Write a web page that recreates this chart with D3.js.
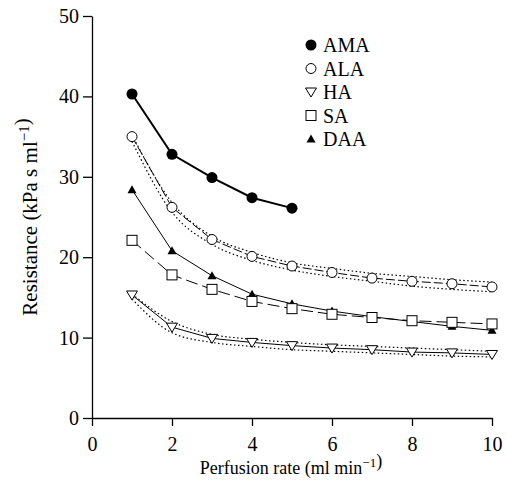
<!DOCTYPE html>
<html>
<head>
<meta charset="utf-8">
<script src="https://cdn.jsdelivr.net/npm/d3@7"></script>
<style>
  body { margin: 0; background: #fff; }
  text { font-family: "Liberation Serif", "DejaVu Serif", serif; fill: #000; }
</style>
</head>
<body>
<svg width="507" height="483"></svg>
<script>
// perfusion rate (ml/min)
var rates = [1, 2, 3, 4, 5, 6, 7, 8, 9, 10];
var ratesAMA = [1, 2, 3, 4, 5];

// resistance values
var ama = [40.3, 32.8, 29.9, 27.4, 26.1];
var ala = [35.0, 26.2, 22.2, 20.1, 18.9, 18.1, 17.4, 17.0, 16.7, 16.3];
var ha  = [15.3, 11.3, 9.9, 9.4, 9.0, 8.7, 8.5, 8.2, 8.1, 7.9];
var sa  = [22.1, 17.8, 16.0, 14.5, 13.6, 12.9, 12.5, 12.1, 11.9, 11.7];
var daa = [28.4, 20.8, 17.7, 15.4, 14.2, 13.3, 12.6, 12.0, 11.4, 10.9];

// dotted bands around ALA and HA
var alaUpper = [35.2, 26.8, 22.6, 20.6, 19.3, 18.6, 18.0, 17.6, 17.2, 16.9];
var alaLower = [34.4, 25.6, 21.6, 19.6, 18.4, 17.6, 17.0, 16.4, 16.0, 15.7];
var haUpper  = [15.4, 12.0, 10.4, 9.8, 9.4, 9.1, 8.9, 8.7, 8.5, 8.3];
var haLower  = [14.8, 10.6, 9.4, 8.9, 8.5, 8.3, 8.1, 7.9, 7.7, 7.6];

var xTicks = [0, 2, 4, 6, 8, 10];
var yTicks = [0, 10, 20, 30, 40, 50];
var legendNames = ["AMA", "ALA", "HA", "SA", "DAA"];

var svg = d3.select("svg");
var x = d3.scaleLinear().domain([0, 10]).range([92, 492]);
var y = d3.scaleLinear().domain([0, 50]).range([418, 16]);

var xAxis = svg.append("g")
    .attr("transform", "translate(0,418)")
    .call(d3.axisBottom(x).tickValues(xTicks).tickSize(8).tickPadding(4).tickSizeOuter(0));
var yAxis = svg.append("g")
    .attr("transform", "translate(92,0)")
    .call(d3.axisLeft(y).tickValues(yTicks).tickSize(9).tickPadding(4).tickSizeOuter(0));
[xAxis, yAxis].forEach(function(a) {
  a.selectAll("path, line").attr("stroke", "#000").attr("stroke-width", 1.3);
  a.selectAll("text").attr("font-family", "Liberation Serif").attr("font-size", 20);
});
xAxis.selectAll("text").attr("dy", "1.05em");

svg.append("text")
    .attr("x", 291).attr("y", 474)
    .attr("text-anchor", "middle").attr("font-size", 18)
    .html('Perfusion rate (ml min<tspan dy="-7" font-size="13">\u22121</tspan>)');
svg.append("text")
    .attr("transform", "translate(37,217) rotate(-90)")
    .attr("text-anchor", "middle").attr("font-size", 21)
    .html('Resistance (kPa s ml<tspan dy="-8" font-size="15">\u22121</tspan>)');

function pts(xs, ys) { return xs.map(function(d, i) { return [d, ys[i]]; }); }

var straight = d3.line().x(function(d) { return x(d[0]); }).y(function(d) { return y(d[1]); });
var smooth = d3.line().curve(d3.curveMonotoneX)
    .x(function(d) { return x(d[0]); }).y(function(d) { return y(d[1]); });

// dotted bands
[alaUpper, alaLower, haUpper, haLower].forEach(function(b) {
  svg.append("path").attr("d", smooth(pts(rates, b)))
      .attr("fill", "none").attr("stroke", "#000").attr("stroke-width", 1.2)
      .attr("stroke-dasharray", "1.5,2.5");
});

var series = [
  { name: "AMA", xs: ratesAMA, ys: ama, width: 2, dash: null },
  { name: "ALA", xs: rates, ys: ala, width: 1, dash: "9,3" },
  { name: "HA",  xs: rates, ys: ha,  width: 1, dash: null },
  { name: "SA",  xs: rates, ys: sa,  width: 1, dash: "12,5" },
  { name: "DAA", xs: rates, ys: daa, width: 1, dash: null }
];

series.forEach(function(s) {
  svg.append("path").attr("d", straight(pts(s.xs, s.ys)))
      .attr("fill", "none").attr("stroke", "#000")
      .attr("stroke-width", s.width).attr("stroke-dasharray", s.dash);
});

function marker(g, name, cx, cy) {
  if (name === "AMA") {
    g.append("circle").attr("cx", cx).attr("cy", cy).attr("r", 5.5).attr("fill", "#000");
  } else if (name === "ALA") {
    g.append("circle").attr("cx", cx).attr("cy", cy).attr("r", 5)
        .attr("fill", "#fff").attr("stroke", "#000").attr("stroke-width", 1);
  } else if (name === "HA") {
    g.append("path").attr("d", "M" + (cx - 5.5) + "," + (cy - 4) + "L" + (cx + 5.5) + "," + (cy - 4) + "L" + cx + "," + (cy + 5) + "Z")
        .attr("fill", "#fff").attr("stroke", "#000").attr("stroke-width", 1);
  } else if (name === "SA") {
    g.append("rect").attr("x", cx - 5).attr("y", cy - 5).attr("width", 10).attr("height", 10)
        .attr("fill", "#fff").attr("stroke", "#000").attr("stroke-width", 1);
  } else {
    g.append("path").attr("d", "M" + (cx - 4.5) + "," + (cy + 3.5) + "L" + (cx + 4.5) + "," + (cy + 3.5) + "L" + cx + "," + (cy - 4.5) + "Z")
        .attr("fill", "#000");
  }
}

// draw markers, DAA first so squares cover it like in the figure
["DAA", "HA", "SA", "ALA", "AMA"].forEach(function(n) {
  var s = series.find(function(d) { return d.name === n; });
  var g = svg.append("g");
  s.xs.forEach(function(d, i) { marker(g, n, x(d), y(s.ys[i])); });
});

// legend
var leg = svg.append("g");
legendNames.forEach(function(n, i) {
  var ly = 45 + i * 23.5;
  marker(leg, n, 311, ly);
  leg.append("text").attr("x", 323).attr("y", ly + 7).attr("font-size", 20).text(n);
});
</script>
</body>
</html>
